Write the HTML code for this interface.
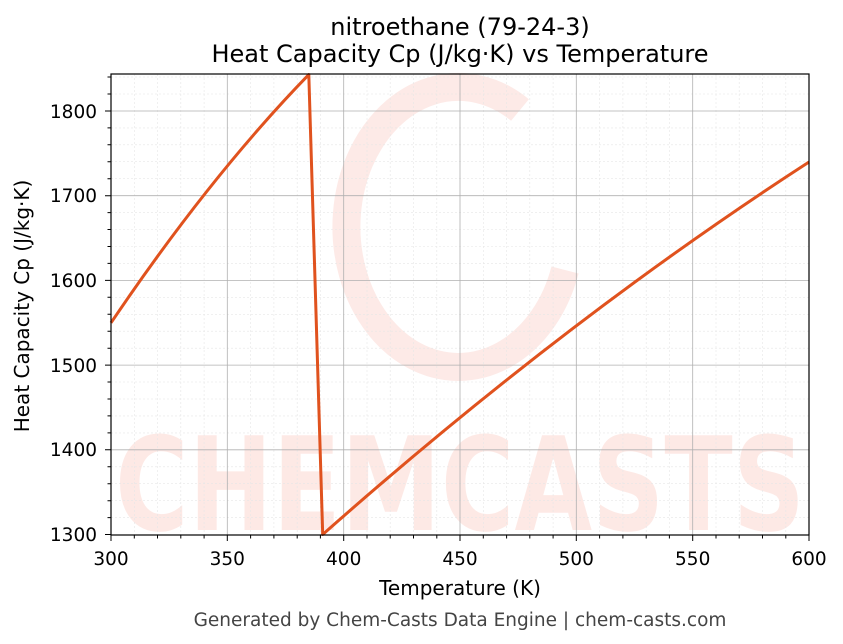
<!DOCTYPE html>
<html><head><meta charset="utf-8"><style>body{margin:0;background:#fff}svg{display:block}</style></head><body>
<svg width="843" height="644" xmlns="http://www.w3.org/2000/svg" font-family="DejaVu Sans, Liberation Sans, sans-serif">
<rect width="843" height="644" fill="#fff"/>
<g opacity="0.11">
<path d="M520,110 A112,140 0 1 0 565,270" fill="none" stroke="#f04020" stroke-width="28"/>
<text x="460" y="530" font-size="130" font-weight="bold" fill="#f04020" text-anchor="middle" textLength="690" lengthAdjust="spacingAndGlyphs">CHEMCASTS</text>
</g>
<g stroke="#e6e6e6" stroke-width="0.6" stroke-dasharray="2,2">
<path d="M134.3,74V535M157.5,74V535M180.8,74V535M204.1,74V535M250.6,74V535M273.9,74V535M297.2,74V535M320.4,74V535M367,74V535M390.2,74V535M413.5,74V535M436.8,74V535M483.3,74V535M506.6,74V535M529.8,74V535M553.1,74V535M599.6,74V535M622.9,74V535M646.2,74V535M669.4,74V535M716,74V535M739.2,74V535M762.5,74V535M785.8,74V535"/>
<path d="M111,517.6H809M111,500.7H809M111,483.7H809M111,466.8H809M111,432.9H809M111,415.9H809M111,399H809M111,382H809M111,348.2H809M111,331.2H809M111,314.3H809M111,297.3H809M111,263.4H809M111,246.5H809M111,229.5H809M111,212.6H809M111,178.7H809M111,161.7H809M111,144.8H809M111,127.9H809M111,94H809M111,77H809"/>
</g>
<g stroke="#b0b0b0" stroke-width="0.8">
<path d="M227.3,74V535M343.7,74V535M460,74V535M576.3,74V535M692.7,74V535"/>
<path d="M111,449.8H809M111,365.1H809M111,280.4H809M111,195.7H809M111,111H809"/>
</g>
<path fill="none" stroke="#e0521e" stroke-width="3" stroke-linejoin="round" d="M111,322.8 Q209.9,176.3 308.8,74.6 L322.7,534.5 Q566,319.2 809,162"/>
<rect x="111" y="74" width="698" height="461" fill="none" stroke="#000" stroke-width="1.2"/>
<g stroke="#000" stroke-width="1">
<path d="M111,535v6M227.3,535v6M343.7,535v6M460,535v6M576.3,535v6M692.7,535v6M809,535v6"/>
<path d="M111,534.5h-6M111,449.8h-6M111,365.1h-6M111,280.4h-6M111,195.7h-6M111,111h-6"/>
<path d="M134.3,535v3.5M157.5,535v3.5M180.8,535v3.5M204.1,535v3.5M250.6,535v3.5M273.9,535v3.5M297.2,535v3.5M320.4,535v3.5M367,535v3.5M390.2,535v3.5M413.5,535v3.5M436.8,535v3.5M483.3,535v3.5M506.6,535v3.5M529.8,535v3.5M553.1,535v3.5M599.6,535v3.5M622.9,535v3.5M646.2,535v3.5M669.4,535v3.5M716,535v3.5M739.2,535v3.5M762.5,535v3.5M785.8,535v3.5"/>
<path d="M111,517.6h-3.5M111,500.7h-3.5M111,483.7h-3.5M111,466.8h-3.5M111,432.9h-3.5M111,415.9h-3.5M111,399h-3.5M111,382h-3.5M111,348.2h-3.5M111,331.2h-3.5M111,314.3h-3.5M111,297.3h-3.5M111,263.4h-3.5M111,246.5h-3.5M111,229.5h-3.5M111,212.6h-3.5M111,178.7h-3.5M111,161.7h-3.5M111,144.8h-3.5M111,127.9h-3.5M111,94h-3.5M111,77h-3.5"/>
</g>
<g font-size="18.5" fill="#000" text-anchor="middle">
<text x="111" y="565">300</text><text x="227.3" y="565">350</text><text x="343.7" y="565">400</text><text x="460" y="565">450</text><text x="576.3" y="565">500</text><text x="692.7" y="565">550</text><text x="809" y="565">600</text>
</g>
<g font-size="18.5" fill="#000" text-anchor="end">
<text x="97" y="541">1300</text><text x="97" y="456">1400</text><text x="97" y="372">1500</text><text x="97" y="287">1600</text><text x="97" y="202">1700</text><text x="97" y="118">1800</text>
</g>
<text x="460" y="595" font-size="20" text-anchor="middle">Temperature (K)</text>
<text transform="translate(29,306) rotate(-90)" font-size="20" text-anchor="middle">Heat Capacity Cp (J/kg·K)</text>
<text x="460" y="35" font-size="24" text-anchor="middle">nitroethane (79-24-3)</text>
<text x="460" y="62" font-size="24" text-anchor="middle">Heat Capacity Cp (J/kg·K) vs Temperature</text>
<text x="460" y="626" font-size="18.5" fill="#444" text-anchor="middle">Generated by Chem-Casts Data Engine | chem-casts.com</text>
</svg>
</body></html>
